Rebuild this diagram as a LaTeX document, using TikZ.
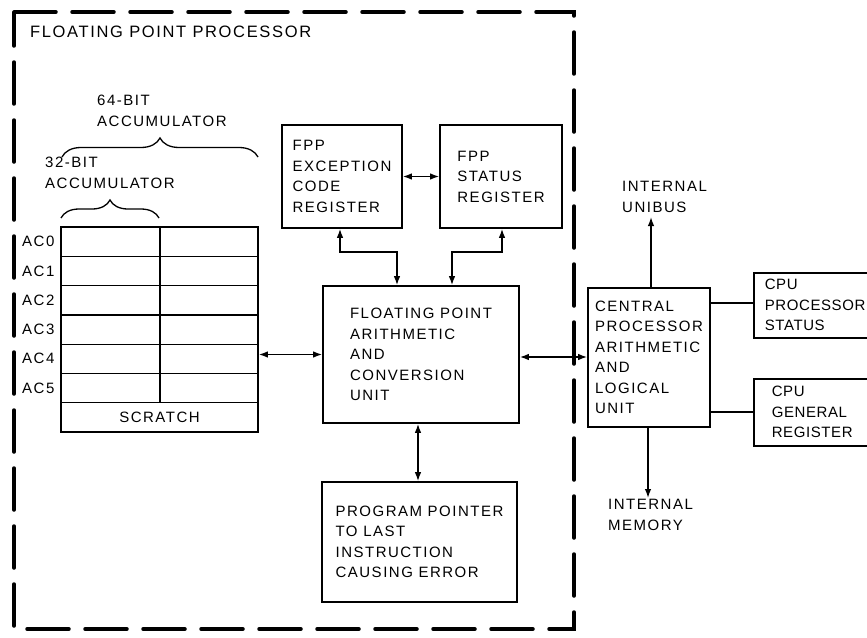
\documentclass[tikz,border=0pt]{standalone}
\usepackage{fontspec}
\newfontfamily\lab{Liberation Sans}[LetterSpace=10]
\newfontfamily\labnarrow{Liberation Sans}[LetterSpace=4]
\usetikzlibrary{arrows.meta,decorations.pathreplacing}
\begin{document}
\begin{tikzpicture}[x=1pt,y=-1pt,
  txt/.style={font=\lab\fontsize{15}{20.5}\selectfont, inner sep=0pt, align=left},
  box/.style={draw, line width=1.6pt, align=left, font=\lab\fontsize{15}{20.5}\selectfont, inner sep=0pt},
  conn/.style={line width=1.4pt},
  biarrow/.style={conn, {Latex[length=9pt,width=6.5pt]}-{Latex[length=9pt,width=6.5pt]}},
  onearrow/.style={conn, -{Latex[length=9pt,width=6.5pt]}},
  frame/.style={line width=3.5pt, line cap=round, dash pattern=on 42pt off 16pt},
  brc/.style={line width=1.3pt, decorate}
]
\useasboundingbox (0,0) rectangle (867,637);

% outer dashed frame
\draw[frame] (14,12) -- (574,12) -- (574,629) -- (14,629) -- cycle;
\node[txt, font=\lab\fontsize{16.5}{20}\selectfont, anchor=west] (title) at (30,32) {FLOATING POINT PROCESSOR};

% accumulator labels and braces
\node[txt, anchor=north west] (acc64) at (97,95) {64-BIT\\ACCUMULATOR};
\node[txt, anchor=north west] (acc32) at (45,157) {32-BIT\\ACCUMULATOR};
\draw[brc, decoration={brace, amplitude=19pt}] (62,157) -- (258,157);
\draw[brc, decoration={brace, amplitude=18pt}] (61,218) -- (159,218);

% register table
\node[draw, line width=1.6pt, minimum width=197pt, minimum height=205pt, inner sep=0pt] (regs) at (159.5,329.5) {};
\foreach \k in {1,...,6} {
  \draw[line width=1.2pt] (61,227+\k*29.3) -- (258,227+\k*29.3);
}
\draw[line width=1.2pt] (160,227) -- (160,402.8);
\foreach \k in {0,...,5} {
  \node[txt, anchor=west] (ac\k) at (22,241.6+\k*29.3) {AC\k};
}
\node[txt] (scratch) at (159.5,417.5) {SCRATCH};

% main boxes
\node[box, minimum width=196pt, minimum height=137pt] (fpu) at (421,354.5)
  {FLOATING POINT\\ARITHMETIC\\AND\\CONVERSION\\UNIT};
\node[box, minimum width=120pt, minimum height=103pt] (exc) at (342,176.5)
  {FPP\\EXCEPTION\\CODE\\REGISTER};
\node[box, minimum width=122pt, minimum height=103pt] (stat) at (501,176.5)
  {FPP\\STATUS\\REGISTER};
\node[box, minimum width=195pt, minimum height=120pt] (pp) at (419.5,542)
  {PROGRAM POINTER\\TO LAST\\INSTRUCTION\\CAUSING ERROR};
\node[box, minimum width=122pt, minimum height=139pt] (cpu) at (649,357.5)
  {CENTRAL\\PROCESSOR\\ARITHMETIC\\AND\\LOGICAL\\UNIT};

\begin{scope}
\clip (0,0) rectangle (867,637);
\node[box, font=\labnarrow\fontsize{15}{20.5}\selectfont, anchor=north west, text width=120pt, inner xsep=11pt, minimum height=65pt] (cps) at (753,272)
  {CPU\\PROCESSOR\\STATUS};
\node[box, font=\labnarrow\fontsize{15}{20.5}\selectfont, anchor=north west, text width=112pt, inner xsep=18pt, minimum height=67pt] (cgr) at (753,378)
  {CPU\\GENERAL\\REGISTER};
\end{scope}

% external labels
\node[txt, anchor=north west] (unibus) at (622,181) {INTERNAL\\UNIBUS};
\node[txt, anchor=north west] (memory) at (608,499) {INTERNAL\\MEMORY};
\coordinate (ubtip) at (651,217);
\coordinate (memtip) at (648,498);
\coordinate (excbend) at (340,252);
\coordinate (statbend) at (502,252);

% connectors
\draw[biarrow] (fpu.west -| regs.east) -- (fpu.west);
\draw[biarrow] (exc.east) -- (stat.west);
\draw[biarrow] (exc.south -| excbend) -- (excbend) -- (excbend -| 397,0) -- (fpu.north -| 397,0);
\draw[biarrow] (stat.south -| statbend) -- (statbend) -- (statbend -| 452,0) -- (fpu.north -| 452,0);
\draw[biarrow] (fpu.south -| 418,0) -- (pp.north -| 418,0);
\draw[biarrow] (fpu.east |- 0,357) -- (cpu.west |- 0,357);
\draw[onearrow] (cpu.north -| ubtip) -- (ubtip);
\draw[onearrow] (cpu.south -| memtip) -- (memtip);
\draw[line width=1.4pt] (cpu.east |- 0,303) -- (cps.west |- 0,303);
\draw[line width=1.4pt] (cpu.east |- 0,412) -- (cgr.west |- 0,412);
\end{tikzpicture}
\end{document}
